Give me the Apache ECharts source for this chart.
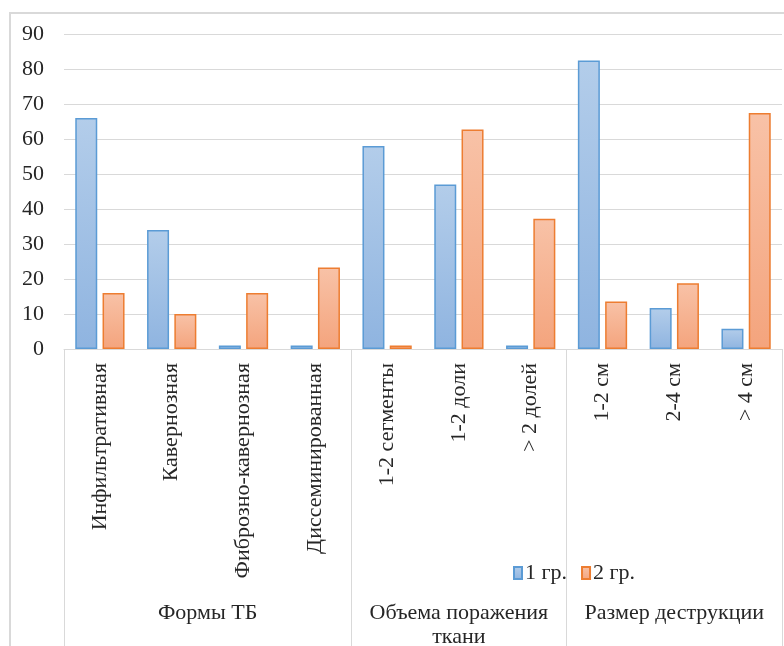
<!DOCTYPE html>
<html>
<head>
<meta charset="utf-8">
<script src="https://cdn.jsdelivr.net/npm/echarts@6/dist/echarts.min.js"></script>
<style>
  html, body { margin: 0; padding: 0; background: #fff; }
  #frame { position: absolute; left: 9px; top: 12px; width: 800px; height: 700px;
           border-left: 2px solid #d9d9d9; border-top: 2px solid #d9d9d9; }
  #chart { position: absolute; left: 0; top: 0; width: 784px; height: 646px; }
</style>
</head>
<body>
<div id="frame"></div>
<div id="chart"></div>
<script>
// Categories along the axis and the groups they belong to
const categories = [
  'Инфильтративная', 'Кавернозная', 'Фиброзно-кавернозная', 'Диссеминированная',
  '1-2 сегменты', '1-2 доли', '> 2 долей',
  '1-2 см', '2-4 см', '> 4 см'
];
const groupNames = ['Формы ТБ', 'Объема поражения\nткани', 'Размер деструкции'];
const groupSizes = [4, 3, 3];

const seriesNames = ['1 гр.', '2 гр.'];
const group1 = [66, 34, 1, 1, 58, 47, 1, 82.4, 11.7, 5.8];
const group2 = [16, 10, 16, 23.3, 1, 62.7, 37.2, 13.6, 18.8, 67.4];

const yMin = 0, yMax = 90, yStep = 10;

// Group boundaries (category indices) and centres on a 0..N value scale
const boundaries = [0];
groupSizes.forEach(n => boundaries.push(boundaries[boundaries.length - 1] + n));
const groupCenters = groupNames.map((_, i) => (boundaries[i] + boundaries[i + 1]) / 2);

const FONT = '"Liberation Serif", "Times New Roman", serif';
const FS = 22;
const TEXT = '#262626';
const GRID = '#d9d9d9';

function grad(top, bottom) {
  return new echarts.graphic.LinearGradient(0, 0, 0, 1, [
    { offset: 0, color: top }, { offset: 1, color: bottom }
  ]);
}

const chart = echarts.init(document.getElementById('chart'), null, { renderer: 'canvas' });
chart.setOption({
  animation: false,
  grid: { left: 64, right: 2, top: 34, bottom: 297, containLabel: false, outerBoundsMode: 'none' },
  legend: {
    left: 508, top: 557,
    icon: 'rect', itemWidth: 8, itemHeight: 12, itemGap: 14,
    textStyle: { fontFamily: FONT, fontSize: FS, color: TEXT, padding: [0, 0, 0, -2] },
    data: seriesNames
  },
  xAxis: [
    {
      type: 'category',
      data: categories,
      axisLine: { show: true, lineStyle: { color: GRID, width: 1 } },
      axisTick: {
        show: true,
        length: 297,
        interval: (idx) => boundaries.indexOf(idx) !== -1,
        lineStyle: { color: GRID, width: 1 }
      },
      axisLabel: {
        rotate: 90, interval: 0, margin: 14,
        fontFamily: FONT, fontSize: FS, color: TEXT
      }
    },
    {
      type: 'value',
      position: 'bottom',
      min: 0, max: categories.length, interval: 0.5,
      axisLine: { show: false }, axisTick: { show: false }, splitLine: { show: false },
      axisLabel: {
        margin: 252, fontFamily: FONT, fontSize: FS, color: TEXT, lineHeight: 24,
        showMinLabel: true, showMaxLabel: true, hideOverlap: false,
        formatter: (v) => {
          const i = groupCenters.findIndex(c => Math.abs(c - v) < 1e-6);
          return i >= 0 ? groupNames[i] : '';
        }
      }
    }
  ],
  yAxis: {
    type: 'value', min: yMin, max: yMax, interval: yStep,
    axisLine: { show: false }, axisTick: { show: false },
    splitLine: { lineStyle: { color: GRID, width: 1 } },
    axisLabel: { margin: 20, fontFamily: FONT, fontSize: FS, color: TEXT }
  },
  series: [
    {
      name: seriesNames[0], type: 'bar', xAxisIndex: 0,
      data: group1, barWidth: 22, barGap: '24%',
      itemStyle: { color: grad('#b3cdea', '#8fb4e0'), borderColor: '#5b9bd5', borderWidth: 1.5 }
    },
    {
      name: seriesNames[1], type: 'bar', xAxisIndex: 0,
      data: group2, barWidth: 22,
      itemStyle: { color: grad('#f8c2a7', '#f4a47d'), borderColor: '#ed7d31', borderWidth: 1.5 }
    }
  ]
});
</script>
</body>
</html>
